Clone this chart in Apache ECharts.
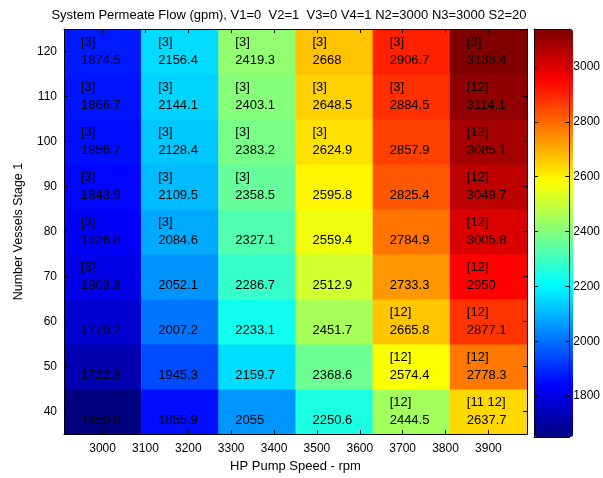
<!DOCTYPE html>
<html>
<head>
<meta charset="utf-8">
<script src="https://cdn.jsdelivr.net/npm/echarts@6/dist/echarts.min.js"></script>
<style>html,body{margin:0;padding:0;background:#fff;}#c{width:603px;height:478px;}</style>
</head>
<body>
<div id="c"></div>
<script>
// HP pump speed (rpm) – column centres
const pumpSpeeds = [3000, 3180, 3360, 3540, 3720, 3900];
// Number of vessels stage 1 – row centres
const vessels = [40, 50, 60, 70, 80, 90, 100, 110, 120];
// Permeate flow (gpm), one array per row (vessels 40 .. 120), columns follow pumpSpeeds
const flow40  = [1650.9, 1855.9, 2055.0, 2250.6, 2444.5, 2637.7];
const flow50  = [1722.3, 1945.3, 2159.7, 2368.6, 2574.4, 2778.3];
const flow60  = [1770.2, 2007.2, 2233.1, 2451.7, 2665.8, 2877.1];
const flow70  = [1803.3, 2052.1, 2286.7, 2512.9, 2733.3, 2950.0];
const flow80  = [1826.8, 2084.6, 2327.1, 2559.4, 2784.9, 3005.8];
const flow90  = [1843.9, 2109.5, 2358.5, 2595.8, 2825.4, 3049.7];
const flow100 = [1856.7, 2128.4, 2383.2, 2624.9, 2857.9, 3085.1];
const flow110 = [1866.7, 2144.1, 2403.1, 2648.5, 2884.5, 3114.1];
const flow120 = [1874.5, 2156.4, 2419.3, 2668.0, 2906.7, 3138.4];
// Constraint tags shown above each value
const tags40  = ['', '', '', '', '[12]', '[11 12]'];
const tags50  = ['', '', '', '', '[12]', '[12]'];
const tags60  = ['', '', '', '', '[12]', '[12]'];
const tags70  = ['[3]', '', '', '', '', '[12]'];
const tags80  = ['[3]', '[3]', '', '', '', '[12]'];
const tags90  = ['[3]', '[3]', '[3]', '', '', '[12]'];
const tags100 = ['[3]', '[3]', '[3]', '[3]', '', '[12]'];
const tags110 = ['[3]', '[3]', '[3]', '[3]', '[3]', '[12]'];
const tags120 = ['[3]', '[3]', '[3]', '[3]', '[3]', '[3]'];
// Tick labels
const xTicks = [3000, 3100, 3200, 3300, 3400, 3500, 3600, 3700, 3800, 3900];
const yTicks = [40, 50, 60, 70, 80, 90, 100, 110, 120];
const cbTicks = [1800, 2000, 2200, 2400, 2600, 2800, 3000];
const colorMin = 1650.9, colorMax = 3138.4;

const flowRows = [flow40, flow50, flow60, flow70, flow80, flow90, flow100, flow110, flow120];
const tagRows = [tags40, tags50, tags60, tags70, tags80, tags90, tags100, tags110, tags120];

const data = [];
vessels.forEach((v, r) => {
  pumpSpeeds.forEach((s, c) => {
    data.push([s, v, flowRows[r][c], tagRows[r][c]]);
  });
});
const dx = (pumpSpeeds[1] - pumpSpeeds[0]) / 2;
const dy = (vessels[1] - vessels[0]) / 2;

const jet = ['#000080', '#0000FF', '#0080FF', '#00FFFF', '#80FF80', '#FFFF00', '#FF8000', '#FF0000', '#800000'];
const FONT = 'Liberation Sans, Arial, sans-serif';

function fmt(v) { return String(Math.round(v * 10) / 10); }
function plain(v) { return String(v); }

const chart = echarts.init(document.getElementById('c'), null, {renderer: 'canvas'});
const axisCommon = {
  z: 10,
  axisLine: {show: true, onZero: false, lineStyle: {color: '#000', width: 1}},
  splitLine: {show: false}
};
chart.setOption({
  animation: false,
  backgroundColor: '#fff',
  title: {
    text: 'System Permeate Flow (gpm), V1=0  V2=1  V3=0 V4=1 N2=3000 N3=3000 S2=20',
    left: 284, top: 4, textAlign: 'center',
    textStyle: {fontFamily: FONT, fontSize: 13, fontWeight: 'normal', color: '#000'}
  },
  grid: [
    {left: 64, top: 29, width: 463, height: 408, containLabel: false},
    {left: 534, top: 29, width: 39, height: 408, containLabel: false}
  ],
  xAxis: [
    Object.assign({}, axisCommon, {
      type: 'value', gridIndex: 0, position: 'bottom',
      min: pumpSpeeds[0] - dx, max: pumpSpeeds[pumpSpeeds.length - 1] + dx,
      name: 'HP Pump Speed - rpm', nameLocation: 'middle', nameGap: 22,
      nameTextStyle: {fontFamily: FONT, fontSize: 13, color: '#000'},
      axisTick: {show: true, inside: true, length: 4, customValues: xTicks, lineStyle: {color: '#000'}},
      axisLabel: {show: true, customValues: xTicks, formatter: plain, margin: 9, fontFamily: FONT, fontSize: 12, color: '#000'}
    }),
    Object.assign({}, axisCommon, {
      type: 'value', gridIndex: 0, position: 'top',
      min: pumpSpeeds[0] - dx, max: pumpSpeeds[pumpSpeeds.length - 1] + dx,
      axisTick: {show: true, inside: true, length: 4, customValues: xTicks, lineStyle: {color: '#000'}},
      axisLabel: {show: false}
    }),
    Object.assign({}, axisCommon, {
      type: 'value', gridIndex: 1, position: 'bottom', min: 0, max: 1,
      axisTick: {show: false}, axisLabel: {show: false}
    }),
    Object.assign({}, axisCommon, {
      type: 'value', gridIndex: 1, position: 'top', min: 0, max: 1,
      axisTick: {show: false}, axisLabel: {show: false}
    })
  ],
  yAxis: [
    Object.assign({}, axisCommon, {
      type: 'value', gridIndex: 0, position: 'left',
      min: vessels[0] - dy, max: vessels[vessels.length - 1] + dy,
      name: 'Number Vessels Stage 1', nameLocation: 'middle', nameGap: 39,
      nameTextStyle: {fontFamily: FONT, fontSize: 12.5, color: '#000'},
      axisTick: {show: true, inside: true, length: 4, customValues: yTicks, lineStyle: {color: '#000'}},
      axisLabel: {show: true, customValues: yTicks, formatter: plain, margin: 7, fontFamily: FONT, fontSize: 12, color: '#000'}
    }),
    Object.assign({}, axisCommon, {
      type: 'value', gridIndex: 0, position: 'right',
      min: vessels[0] - dy, max: vessels[vessels.length - 1] + dy,
      axisTick: {show: true, inside: true, length: 4, customValues: yTicks, lineStyle: {color: '#000'}},
      axisLabel: {show: false}
    }),
    Object.assign({}, axisCommon, {
      type: 'value', gridIndex: 1, position: 'right', min: colorMin, max: colorMax,
      axisTick: {show: true, inside: true, length: 4, customValues: cbTicks, lineStyle: {color: '#000'}},
      axisLabel: {show: true, customValues: cbTicks, formatter: plain, margin: 4, fontFamily: FONT, fontSize: 12, color: '#000'}
    }),
    Object.assign({}, axisCommon, {
      type: 'value', gridIndex: 1, position: 'left', min: colorMin, max: colorMax,
      axisTick: {show: true, inside: true, length: 4, customValues: cbTicks, lineStyle: {color: '#000'}},
      axisLabel: {show: false}
    })
  ],
  visualMap: {
    type: 'continuous', min: colorMin, max: colorMax, dimension: 2, seriesIndex: 0,
    orient: 'vertical', left: 534, top: 29, itemWidth: 39, itemHeight: 408,
    padding: 0, text: null, calculable: false, showLabel: false, realtime: false,
    inRange: {color: jet}, z: 1
  },
  series: [{
    type: 'custom',
    xAxisIndex: 0, yAxisIndex: 0,
    encode: {x: 0, y: 1},
    data: data,
    z: 2,
    renderItem: function (params, api) {
      const x = api.value(0), y = api.value(1);
      const p0 = api.coord([x - dx, y + dy]);
      const p1 = api.coord([x + dx, y - dy]);
      const tag = data[params.dataIndex][3];
      const children = [{
        type: 'rect',
        shape: {x: p0[0], y: p0[1], width: p1[0] - p0[0] + 0.5, height: p1[1] - p0[1] + 0.5},
        style: {fill: api.visual('color')}
      }];
      if (tag) {
        children.push({type: 'text', x: p0[0] + 17, y: p0[1] + 13,
          style: {text: tag, fill: '#000', font: '13px ' + FONT, textAlign: 'left', textVerticalAlign: 'middle'}});
      }
      children.push({type: 'text', x: p0[0] + 17, y: p0[1] + 31,
        style: {text: fmt(api.value(2)), fill: '#000', font: '13px ' + FONT, textAlign: 'left', textVerticalAlign: 'middle'}});
      return {type: 'group', children: children};
    }
  }]
});
</script>
</body>
</html>
